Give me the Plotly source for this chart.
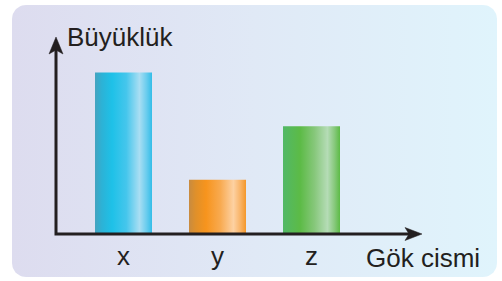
import numpy as np
import plotly.graph_objects as go

# ---- data ----
categories = ["x", "y", "z"]
values = [3, 1, 2]          # relative sizes
y_title = "Büyüklük"
x_title = "Gök cismi"

bar_scales = [
    [[0, "#45a3bf"], [0.12, "#2cb2d6"], [0.3, "#1ec1e8"], [0.55, "#45c6ec"], [0.78, "#a9def3"], [0.9, "#6ccdee"], [1, "#33bde8"]],
    [[0, "#c88b40"], [0.12, "#e0902a"], [0.3, "#f7941d"], [0.55, "#f8aa50"], [0.78, "#fdd1a2"], [0.9, "#f9b468"], [1, "#f4972a"]],
    [[0, "#52b866"], [0.12, "#56b95a"], [0.3, "#5cbb46"], [0.55, "#86c77a"], [0.78, "#b5dcb6"], [0.9, "#88c97e"], [1, "#5cbb46"]],
]

W, H = 502, 281
ink = "#231f20"
font = "Liberation Sans, Arial, Helvetica, sans-serif"

# pixel geometry of the plotting frame
x0_px, x_step_px = 123.5, 94.0     # centre of first category, spacing
base_px, unit_px = 233.5, 161.0 / 3  # baseline, pixels per value unit
half_w = 28.5 / x_step_px

fig = go.Figure()

# background rounded panel (pixel coordinates on x/y)
bx0, bx1, by0, by1, r = 12, 497, 5, 277, 14
t = np.linspace(0, np.pi / 2, 12)
px, py = [], []
for cx, cy, a0 in [(bx1 - r, by0 + r, -np.pi / 2), (bx1 - r, by1 - r, 0),
                   (bx0 + r, by1 - r, np.pi / 2), (bx0 + r, by0 + r, np.pi)]:
    px += list(cx + r * np.cos(a0 + t))
    py += list(cy + r * np.sin(a0 + t))
px.append(px[0]); py.append(py[0])
fig.add_trace(go.Scatter(
    x=px, y=py, mode="lines", line=dict(width=0), fill="toself",
    fillgradient=dict(type="horizontal", start=bx0, stop=bx1,
                      colorscale=[[0, "#dddcef"], [0.5, "#e0e9f6"], [1, "#e0f4fc"]]),
    hoverinfo="skip", showlegend=False, xaxis="x", yaxis="y"))

# bars (data coordinates on x2/y2)
for i, (cat, v, cs) in enumerate(zip(categories, values, bar_scales)):
    fig.add_trace(go.Scatter(
        x=[i - half_w, i - half_w, i + half_w, i + half_w, i - half_w],
        y=[0, v, v, 0, 0], mode="lines", line=dict(width=0), fill="toself",
        fillgradient=dict(type="horizontal", start=i - half_w, stop=i + half_w, colorscale=cs),
        name=cat, showlegend=False, xaxis="x2", yaxis="y2"))

# axes with arrows (pixel coordinates)
shapes = [
    dict(type="path", path="M56,48 L56,234 L410,234", xref="x", yref="y",
         line=dict(color=ink, width=3), layer="above"),
    dict(type="path", path="M56,37 L63,54 L56,50 L49,54 Z", xref="x", yref="y",
         line=dict(color=ink, width=0.5), fillcolor=ink, layer="above"),
    dict(type="path", path="M422,234 L405,227.5 L409,234 L405,240.5 Z", xref="x", yref="y",
         line=dict(color=ink, width=0.5), fillcolor=ink, layer="above"),
]

annotations = [
    dict(text=y_title, x=65, y=37, xref="x", yref="y", xanchor="left", yanchor="middle",
         showarrow=False, font=dict(size=26, color=ink, family=font)),
    dict(text=x_title, x=364, y=258, xref="x", yref="y", xanchor="left", yanchor="middle",
         showarrow=False, font=dict(size=26, color=ink, family=font)),
]
for i, cat in enumerate(categories):
    annotations.append(dict(text=cat, x=i, y=256, xref="x2", yref="y", xanchor="center",
                            yanchor="middle", showarrow=False,
                            font=dict(size=26, color=ink, family=font)))

fig.update_layout(
    width=W, height=H, margin=dict(l=0, r=0, t=0, b=0),
    paper_bgcolor="white", plot_bgcolor="rgba(0,0,0,0)",
    xaxis=dict(range=[0, W], domain=[0, 1], visible=False, fixedrange=True),
    yaxis=dict(range=[H, 0], domain=[0, 1], visible=False, fixedrange=True),
    xaxis2=dict(range=[-x0_px / x_step_px, (W - x0_px) / x_step_px], overlaying="x",
                visible=False, fixedrange=True),
    yaxis2=dict(range=[(base_px - H) / unit_px, base_px / unit_px], overlaying="y",
                visible=False, fixedrange=True),
    shapes=shapes, annotations=annotations, showlegend=False,
)

fig.write_html("out.html", config={"displayModeBar": False},
               post_script="document.body.style.margin='0';document.body.style.overflow='hidden';")
